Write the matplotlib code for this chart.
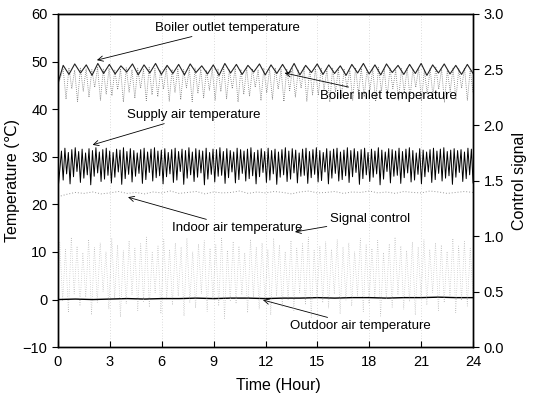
import numpy as np
import matplotlib
matplotlib.use("Agg")
import matplotlib.pyplot as plt

plt.rcParams['font.family'] = ['Liberation Sans', 'DejaVu Sans']

# Values (per control cycle)
boiler_out_hi = [49.2, 49.5, 49.3, 49.6, 49.4, 49.1, 49.5, 49.3, 49.6, 49.2, 49.4, 49.5,
                 49.1, 49.3, 49.6, 49.4, 49.2, 49.5, 49.3, 49.4, 49.6, 49.2, 49.5, 49.3,
                 49.1, 49.4, 49.6, 49.3, 49.5, 49.2, 49.4, 49.6, 49.3, 49.5, 49.2, 49.4]
boiler_out_lo = [47.3, 47.6, 47.1, 47.5, 47.4, 47.8, 47.2, 47.6, 47.3, 47.5, 47.2, 47.7,
                 47.4, 47.1, 47.6, 47.3, 47.8, 47.2, 47.5, 47.4, 47.2, 47.7, 47.3, 47.5,
                 47.1, 47.6, 47.4, 47.2, 47.7, 47.3, 47.5, 47.1, 47.6, 47.4, 47.3, 47.5]
boiler_in_hi = [48.4, 48.7, 48.2, 48.6, 48.5, 48.3, 48.8, 48.4, 48.6, 48.2, 48.5, 48.7,
                48.3, 48.6, 48.4, 48.8, 48.5, 48.2, 48.7, 48.4, 48.6, 48.3, 48.5, 48.7,
                48.4, 48.2, 48.6, 48.5, 48.8, 48.3, 48.6, 48.4, 48.7, 48.5, 48.2, 48.6,
                48.4, 48.7, 48.3, 48.5, 48.6, 48.2, 48.8, 48.4, 48.5, 48.7, 48.3, 48.6,
                48.4, 48.5, 48.2, 48.7, 48.6, 48.3, 48.5, 48.8, 48.4, 48.6, 48.2, 48.5,
                48.7, 48.4, 48.6, 48.3, 48.5, 48.8, 48.4, 48.2, 48.6, 48.5, 48.7, 48.4]
boiler_in_lo = [42.1, 44.3, 41.6, 43.8, 42.5, 44.6, 41.9, 43.2, 42.8, 44.1, 41.5, 43.6,
                42.3, 44.4, 41.8, 43.0, 42.6, 44.2, 41.7, 43.5, 42.0, 44.5, 41.6, 43.3,
                42.4, 44.0, 41.9, 43.7, 42.2, 44.3, 41.5, 43.1, 42.7, 44.6, 41.8, 43.4,
                42.1, 44.2, 41.6, 43.9, 42.5, 44.4, 41.7, 43.0, 42.9, 44.1, 41.5, 43.6,
                42.3, 44.5, 41.9, 43.2, 42.6, 44.0, 41.6, 43.8, 42.2, 44.3, 41.8, 43.5,
                42.4, 44.6, 41.7, 43.1, 42.8, 44.2, 41.5, 43.7, 42.0, 44.4, 41.9, 43.3]
supply_hi = [31.2, 31.8, 30.9, 31.5, 31.9, 31.1, 31.6, 30.8, 31.7, 31.3, 31.9, 31.0,
             31.5, 31.8, 31.2, 30.9, 31.6, 31.4, 31.9, 31.1, 31.7, 31.3, 30.8, 31.5,
             31.8, 31.0, 31.6, 31.9, 31.2, 31.4, 31.7, 30.9, 31.5, 31.8, 31.1, 31.6,
             31.3, 31.9, 31.0, 31.7, 31.4, 31.2, 31.8, 30.9, 31.6, 31.5, 31.9, 31.1,
             31.7, 31.3, 31.0, 31.8, 31.5, 31.2, 31.6, 31.9, 30.9, 31.4, 31.7, 31.1,
             31.8, 31.3, 31.6, 31.0, 31.5, 31.9, 31.2, 31.7, 31.4, 30.8, 31.6, 31.8,
             31.1, 31.5, 31.9, 31.3, 30.9, 31.7, 31.2, 31.6, 31.8, 31.0, 31.4, 31.9,
             31.3, 31.7, 31.1, 31.5, 31.8, 30.9, 31.6, 31.2, 31.9, 31.4, 31.0, 31.7,
             31.5, 31.2, 31.8, 31.1, 31.6, 31.9, 31.3, 30.8, 31.7, 31.4, 31.0, 31.5,
             31.8, 31.2, 31.6, 31.9, 31.1, 31.4, 31.7, 31.3, 31.5, 31.0, 31.8, 31.6]
supply_lo = [25.1, 26.4, 24.3, 25.8, 26.9, 24.6, 25.5, 26.2, 24.1, 25.9, 26.6, 24.8,
             25.3, 26.1, 24.5, 25.7, 26.8, 24.2, 25.4, 26.3, 24.7, 25.9, 26.5, 24.4,
             25.2, 26.7, 24.9, 25.6, 26.0, 24.3, 25.8, 26.4, 24.6, 25.1, 26.9, 24.2,
             25.5, 26.2, 24.8, 25.7, 26.6, 24.1, 25.3, 26.3, 24.7, 25.9, 26.1, 24.4,
             25.6, 26.8, 24.5, 25.2, 26.5, 24.9, 25.4, 26.0, 24.3, 25.8, 26.7, 24.6,
             25.1, 26.4, 24.2, 25.7, 26.2, 24.8, 25.3, 26.6, 24.5, 25.9, 26.1, 24.4,
             25.6, 26.3, 24.7, 25.0, 26.8, 24.3, 25.5, 26.5, 24.9, 25.2, 26.0, 24.6,
             25.8, 26.7, 24.2, 25.4, 26.2, 24.8, 25.7, 26.4, 24.1, 25.3, 26.9, 24.5,
             25.9, 26.1, 24.4, 25.6, 26.6, 24.7, 25.1, 26.3, 24.3, 25.8, 26.8, 24.6,
             25.2, 26.5, 24.9, 25.5, 26.0, 24.2, 25.7, 26.7, 24.8, 25.4, 26.2, 24.5]
indoor = [21.6, 22.1, 22.5, 22.3, 22.6, 22.2, 22.4, 22.7, 22.3, 22.5, 22.2, 22.6,
          22.4, 22.8, 22.3, 22.5, 22.7, 22.2, 22.6, 22.4, 22.5, 22.8, 22.3, 22.6,
          22.4, 22.7, 22.5, 22.2, 22.6, 22.8, 22.4, 22.5, 22.7, 22.3, 22.6, 22.5,
          22.8, 22.4, 22.6, 22.3, 22.7, 22.5, 22.4, 22.8, 22.6, 22.3, 22.5, 22.7, 22.5]
outdoor = [0.0, 0.1, 0.0, 0.1, 0.2, 0.1, 0.2, 0.2, 0.3, 0.2, 0.3, 0.3, 0.2,
           0.3, 0.3, 0.4, 0.3, 0.4, 0.4, 0.3, 0.4, 0.4, 0.5, 0.4, 0.4]
signal_hi = [0.95, 0.88, 0.99, 0.91, 0.85, 0.97, 0.90, 0.94, 0.86, 0.98, 0.92, 0.87,
             0.96, 0.89, 0.93, 0.99, 0.85, 0.91, 0.97, 0.88, 0.94, 0.90, 0.98, 0.86,
             0.93, 0.96, 0.89, 0.92, 0.99, 0.87, 0.95, 0.91, 0.85, 0.97, 0.90, 0.94,
             0.88, 0.98, 0.92, 0.86, 0.96, 0.89, 0.93, 0.99, 0.87, 0.91, 0.95, 0.88,
             0.97, 0.90, 0.94, 0.86, 0.98, 0.92, 0.89, 0.96, 0.85, 0.93, 0.99, 0.91,
             0.87, 0.95, 0.90, 0.97, 0.88, 0.94, 0.92, 0.86, 0.98, 0.91, 0.95, 0.89]
signal_lo = [0.42, 0.31, 0.48, 0.37, 0.45, 0.29, 0.40, 0.50, 0.34, 0.44, 0.27, 0.39,
             0.47, 0.33, 0.41, 0.36, 0.49, 0.30, 0.43, 0.38, 0.46, 0.28, 0.40, 0.35,
             0.48, 0.32, 0.44, 0.37, 0.26, 0.42, 0.39, 0.47, 0.31, 0.45, 0.34, 0.41,
             0.29, 0.46, 0.36, 0.43, 0.33, 0.49, 0.38, 0.27, 0.44, 0.40, 0.35, 0.48,
             0.30, 0.42, 0.37, 0.46, 0.32, 0.39, 0.45, 0.28, 0.43, 0.36, 0.47, 0.34,
             0.41, 0.29, 0.44, 0.38, 0.49, 0.33, 0.40, 0.46, 0.31, 0.42, 0.37, 0.45]

# start-up values at t = 0
boiler_out_start = 45.5
boiler_in_start = 45.0
supply_start = 23.0


def zigzag(t_start, t_end, hi, lo, first):
    """Interleave per-cycle high/low values on a time axis."""
    n = len(hi)
    t = np.linspace(t_start, t_end, 2 * n)
    y = np.empty(2 * n)
    y[0::2] = hi
    y[1::2] = lo
    return np.concatenate([[0.0], t]), np.concatenate([[first], y])


fig = plt.figure(figsize=(5.37, 3.99), dpi=100)
ax = fig.add_axes([0.108, 0.130, 0.773, 0.835])
ax2 = ax.twinx()

# signal control (right axis), light dotted cloud
t_sig, y_sig = zigzag(0.1, 24, signal_hi, signal_lo, 0.5)
ax2.plot(t_sig, y_sig, color='#999999', lw=0.5, ls=(0, (0.7, 2.5)))

# boiler inlet (grey dotted)
t, y = zigzag(0.3, 24, boiler_in_hi, boiler_in_lo, boiler_in_start)
ax.plot(t, y, color='#777777', lw=0.6, ls=(0, (1, 1.5)))
# boiler outlet
t, y = zigzag(0.3, 24, boiler_out_hi, boiler_out_lo, boiler_out_start)
ax.plot(t, y, color='#222222', lw=0.8)
# supply air
t, y = zigzag(0.2, 24, supply_hi, supply_lo, supply_start)
ax.plot(t, y, color='black', lw=0.7)
# indoor air
ax.plot(np.linspace(0, 24, len(indoor)), indoor, color='#999999', lw=0.7, ls=(0, (1, 2)))
# outdoor air
ax.plot(np.arange(len(outdoor)), outdoor, color='black', lw=1.0)

ax.set_xlim(0, 24)
ax.set_ylim(-10, 60)
ax2.set_ylim(0, 3.0)
ax.set_xticks(range(0, 25, 3))
ax.set_yticks(range(-10, 61, 10))
ax2.set_yticks(np.arange(0, 3.01, 0.5))
ax2.set_yticklabels([f"{v:.1f}" for v in np.arange(0, 3.01, 0.5)])
ax.tick_params(axis='x', direction='in', labelsize=10.5, length=4, pad=6)
ax.tick_params(axis='y', direction='out', labelsize=10.5, length=4)
ax2.tick_params(axis='y', direction='out', labelsize=10.5, length=4)
ax.xaxis.grid(True, color='#bbbbbb', lw=0.5, ls=(0, (1, 3)))
for a in (ax, ax2):
    for s in a.spines.values():
        s.set_linewidth(1.0)

ax.set_xlabel('Time (Hour)', fontsize=11.5, labelpad=6)
ax.xaxis.label.set_x(0.53)
ax.set_ylabel('Temperature (\u2103)', fontsize=11.5, labelpad=2)
ax2.set_ylabel('Control signal', fontsize=11.5, labelpad=6)

arrow = dict(arrowstyle='->', lw=0.6, color='black', shrinkA=0, shrinkB=0)
notes = [
    ('Boiler outlet temperature', (5.6, 57.1), (2.25, 50.3)),
    ('Supply air temperature', (4.0, 38.8), (2.0, 32.5)),
    ('Boiler inlet temperature', (15.15, 42.8), (13.1, 47.6)),
    ('Indoor air temperature', (6.6, 15.0), (4.05, 21.5)),
    ('Signal control', (15.7, 16.9), (13.7, 14.2)),
    ('Outdoor air temperature', (13.4, -5.6), (11.85, -0.1)),
]
for label, xytext, xy in notes:
    ax.annotate(label, xy=xy, xytext=xytext, fontsize=9.5, va='center', ha='left',
                arrowprops=arrow)

fig.savefig('out.png', dpi=100)
